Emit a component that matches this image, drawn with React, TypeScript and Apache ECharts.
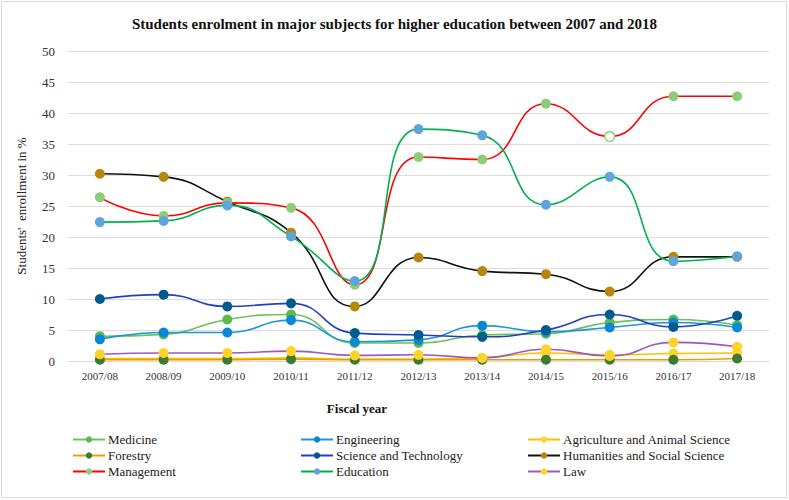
import React, { useEffect, useRef } from "react";
import * as echarts from "echarts";

const years = ["2007/08", "2008/09", "2009/10", "2010/11", "2011/12", "2012/13", "2013/14", "2014/15", "2015/16", "2016/17", "2017/18"];
const yTicks = [0, 5, 10, 15, 20, 25, 30, 35, 40, 45, 50];

const medicine = [4.0, 4.3, 6.7, 7.5, 2.9, 2.9, 4.2, 4.4, 6.2, 6.7, 5.8];
const engineering = [3.5, 4.6, 4.6, 6.6, 3.1, 3.4, 5.7, 4.7, 5.4, 6.2, 5.4];
const agriculture = [0.4, 0.4, 0.4, 0.5, 0.3, 0.3, 0.5, 1.3, 1.0, 1.2, 1.3];
const forestry = [0.2, 0.2, 0.2, 0.3, 0.2, 0.2, 0.2, 0.2, 0.2, 0.2, 0.4];
const sciTech = [10.0, 10.7, 8.8, 9.3, 4.5, 4.2, 3.9, 5.0, 7.5, 5.5, 7.3];
const humanities = [30.2, 29.7, 25.7, 20.7, 8.8, 16.7, 14.5, 14.0, 11.2, 16.8, 16.8];
const management = [26.4, 23.4, 25.5, 24.7, 12.3, 32.9, 32.5, 41.5, 36.2, 42.7, 42.7];
const education = [22.4, 22.6, 25.1, 20.1, 12.9, 37.4, 36.4, 25.2, 29.7, 16.1, 16.9];
const law = [1.1, 1.3, 1.3, 1.6, 0.9, 1.0, 0.5, 1.9, 0.8, 3.0, 2.3];

const FONT = "Liberation Serif";

type S = { name: string; data: number[]; line: string; marker: string };
const seriesDefs: S[] = [
  { name: "Medicine", data: medicine, line: "#6cc25c", marker: "#5fb84f" },
  { name: "Engineering", data: engineering, line: "#1f95dc", marker: "#0a88d6" },
  { name: "Agriculture and Animal Science", data: agriculture, line: "#ffc000", marker: "#ffd42a" },
  { name: "Forestry", data: forestry, line: "#e8a000", marker: "#3d7a32" },
  { name: "Science and Technology", data: sciTech, line: "#2140c0", marker: "#005a8e" },
  { name: "Humanities and Social Science", data: humanities, line: "#111111", marker: "#b8860b" },
  { name: "Management", data: management, line: "#ff0000", marker: "#8dcc78" },
  { name: "Education", data: education, line: "#00b050", marker: "#5ea5de" },
  { name: "Law", data: law, line: "#9b59c0", marker: "#ffd42a" },
];

const hollow: Record<string, number[]> = { Management: [8] };

export default function App() {
  const ref = useRef<HTMLDivElement>(null);
  useEffect(() => {
    if (!ref.current) return;
    const chart = echarts.init(ref.current, null, { renderer: "svg" });
    const legendBase = {
      orient: "vertical" as const,
      top: 433,
      padding: 0,
      itemWidth: 32,
      itemHeight: 8,
      itemGap: 3,
      textStyle: { fontFamily: FONT, fontSize: 13, color: "#222", padding: [0, 0, 0, -2] },
    };
    chart.setOption({
      animation: false,
      backgroundColor: "#ffffff",
      textStyle: { fontFamily: FONT },
      title: {
        text: "Students enrolment in major subjects for higher education between 2007 and 2018",
        left: "center",
        top: 11,
        textStyle: { fontFamily: FONT, fontSize: 15, fontWeight: "bold", color: "#111" },
      },
      legend: [
        { ...legendBase, left: 72, data: ["Medicine", "Forestry", "Management"] },
        { ...legendBase, left: 300, data: ["Engineering", "Science and Technology", "Education"] },
        { ...legendBase, left: 527, data: ["Agriculture and Animal Science", "Humanities and Social Science", "Law"] },
      ],
      grid: { left: 68, right: 20, top: 51, bottom: 139, containLabel: false },
      graphic: [
        {
          type: "rect",
          shape: { x: 1.5, y: 1.5, width: 785, height: 496 },
          style: { fill: "none", stroke: "#d9d9d9", lineWidth: 1 },
          silent: true,
        },
        {
          type: "text",
          x: 357,
          y: 408,
          style: {
            text: "Fiscal year",
            fontFamily: FONT,
            fontSize: 13,
            fontWeight: "bold",
            fill: "#111",
            align: "center",
            verticalAlign: "middle",
          },
        },
      ],
      xAxis: {
        type: "category",
        data: years,
        boundaryGap: true,
        axisLine: { lineStyle: { color: "#d9d9d9" } },
        axisTick: { show: false },
        axisLabel: { fontFamily: FONT, fontSize: 11, color: "#333", margin: 9 },
      },
      yAxis: {
        type: "value",
        min: 0,
        max: 50,
        interval: 5,
        name: "Students'  enrollment in %",
        nameLocation: "middle",
        nameGap: 40,
        nameTextStyle: { fontFamily: FONT, fontSize: 13, color: "#222" },
        axisLine: { show: false },
        axisTick: { show: false },
        splitLine: { lineStyle: { color: "#dcdcdc" } },
        axisLabel: {
          fontFamily: FONT,
          fontSize: 13,
          color: "#333",
          margin: 13,
          formatter: (v: number) => (yTicks.includes(v) ? String(v) : ""),
        },
      },
      series: seriesDefs.map((s) => ({
        name: s.name,
        type: "line",
        smooth: 0.5,
        symbol: "circle",
        symbolSize: 10,
        showSymbol: true,
        lineStyle: { color: s.line, width: 1.6 },
        itemStyle: { color: s.marker, borderWidth: 0 },
        data: s.data.map((v, i) =>
          hollow[s.name] && hollow[s.name].includes(i)
            ? { value: v, itemStyle: { color: "#ffffff", borderColor: s.marker, borderWidth: 1.5 } }
            : v
        ),
      })),
    });
    return () => chart.dispose();
  }, []);
  return (
    <div
      ref={ref}
      style={{ position: "fixed", left: 0, top: 0, width: 789, height: 500, background: "#fff" }}
    />
  );
}
